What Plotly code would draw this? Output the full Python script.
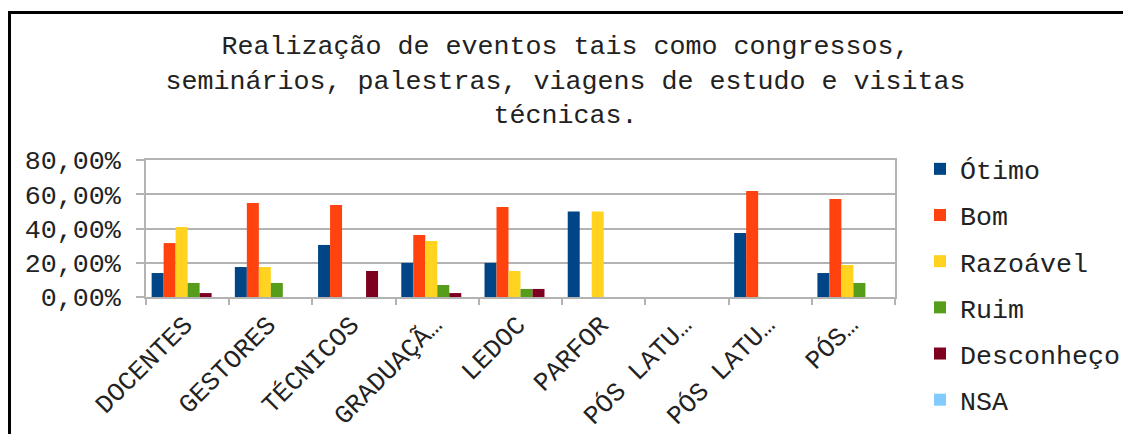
import plotly.graph_objects as go

categories = ["DOCENTES", "GESTORES", "TÉCNICOS", "GRADUAÇÃO", "LEDOC",
              "PARFOR", "PÓS LATU 1", "PÓS LATU 2", "PÓS"]
tick_labels = ["DOCENTES", "GESTORES", "TÉCNICOS", "GRADUAÇÃ…", "LEDOC",
               "PARFOR", "PÓS LATU…", "PÓS LATU…", "PÓS…"]

# percentages per category
otimo = [0.140, 0.175, 0.304, 0.199, 0.199, 0.500, None, 0.374, 0.140]
bom = [0.315, 0.549, 0.537, 0.362, 0.526, None, None, 0.619, 0.572]
razoavel = [0.409, 0.175, None, 0.327, 0.152, 0.500, None, None, 0.187]
ruim = [0.082, 0.082, None, 0.070, 0.047, None, None, None, 0.082]
desconheco = [0.023, None, 0.152, 0.023, 0.047, None, None, None, None]
nsa = [None] * 9

series = [
    ("Ótimo", otimo, "#004586"),
    ("Bom", bom, "#ff420e"),
    ("Razoável", razoavel, "#ffd320"),
    ("Ruim", ruim, "#579d1c"),
    ("Desconheço", desconheco, "#7e0021"),
    ("NSA", nsa, "#83caff"),
]

FONT = "Courier New, Liberation Mono, monospace"
FS = 26.67  # 20pt
# page body has an 8px margin, so the figure is drawn 8px in from the corner
W, H = 1123, 426
L, R, T, B = 138, 236, 152, 137
pw, ph = W - L - R, H - T - B

fig = go.Figure()
for name, vals, color in series:
    fig.add_trace(
        go.Bar(
            x=categories,
            y=vals,
            name=name,
            legendgroup=name,
            marker=dict(color=color, line_width=0),
        )
    )


def px_x(p):
    return (p - L) / pw


def px_y(p):
    return (H - B - p) / ph


fig.update_layout(
    width=W,
    height=H,
    margin=dict(l=L, r=R, t=T, b=B, autoexpand=False),
    paper_bgcolor="white",
    plot_bgcolor="white",
    separators=",.",
    barmode="group",
    bargap=0.135,
    bargroupgap=0,
    font=dict(family=FONT, size=FS, color="#222222"),
    title=dict(
        text="Realização de eventos tais como congressos,<br>"
        "seminários, palestras, viagens de estudo e visitas<br>técnicas.",
        x=557.5 / W,
        xanchor="center",
        y=1 - 46 / H,
        yanchor="top",
        font=dict(family=FONT, size=FS, color="#222222"),
    ),
    legend=dict(
        x=px_x(912),
        y=px_y(137),
        xanchor="left",
        yanchor="top",
        font=dict(family=FONT, size=FS, color="#222222"),
        tracegroupgap=8.5,
        itemwidth=30,
        maxheight=1,
        bgcolor="rgba(0,0,0,0)",
    ),
    xaxis=dict(
        type="category",
        tickmode="array",
        tickvals=categories,
        ticktext=tick_labels,
        tickangle=-45,
        tickson="boundaries",
        ticks="outside",
        ticklen=6,
        tickcolor="#b3b3b3",
        tickwidth=2,
        ticklabelshift=-3,
        ticklabelstandoff=0,
        showline=True,
        linecolor="#b3b3b3",
        linewidth=2,
        mirror=True,
        showgrid=False,
        tickfont=dict(family=FONT, size=26, color="#222222"),
    ),
    yaxis=dict(
        range=[0, 0.8],
        tickvals=[0, 0.2, 0.4, 0.6, 0.8],
        tickformat=".2%",
        ticks="outside",
        ticklen=8,
        tickcolor="#b3b3b3",
        tickwidth=2,
        ticklabelstandoff=10,
        showline=True,
        linecolor="#b3b3b3",
        linewidth=2,
        mirror=True,
        showgrid=True,
        gridcolor="#b3b3b3",
        gridwidth=2,
        zeroline=False,
        tickfont=dict(family=FONT, size=FS, color="#222222"),
    ),
    shapes=[
        dict(
            type="rect",
            xref="paper",
            yref="paper",
            x0=px_x(1.5),
            x1=px_x(1200),
            y0=px_y(500),
            y1=px_y(4.5),
            line=dict(color="black", width=3),
            fillcolor="rgba(0,0,0,0)",
            layer="above",
        )
    ],
)

fig.write_html("out.html")
